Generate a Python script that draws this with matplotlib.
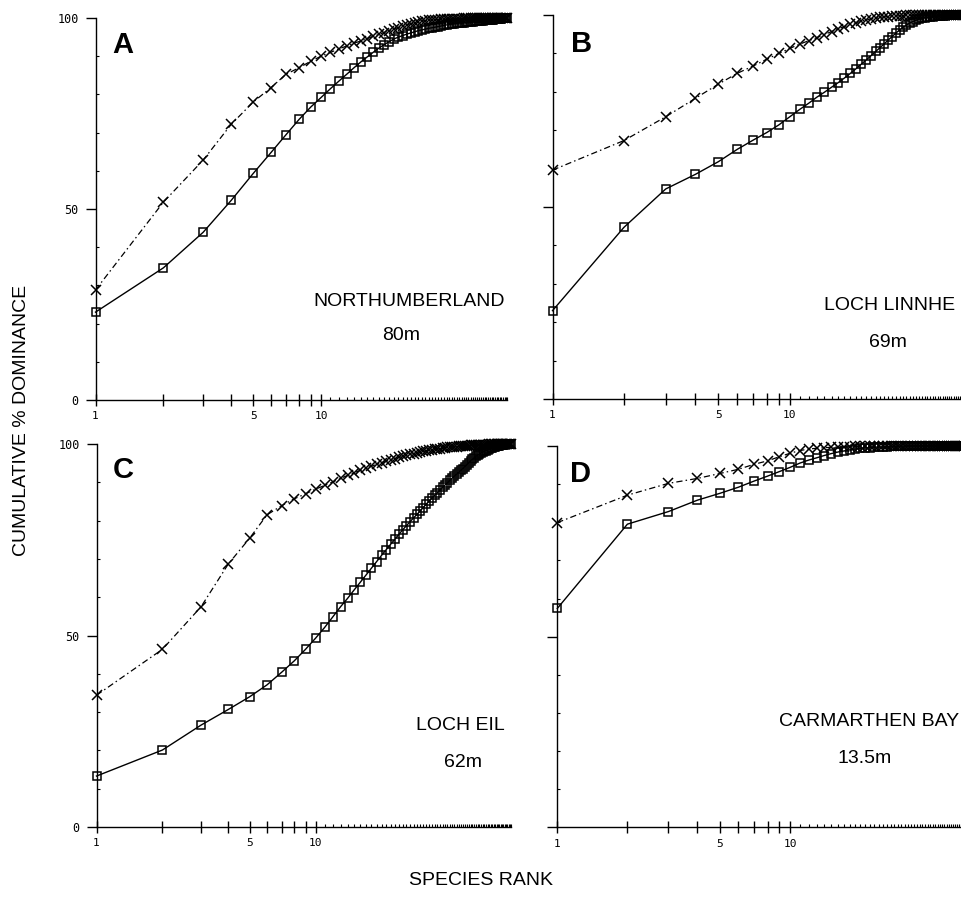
import matplotlib
matplotlib.use('Agg')
import matplotlib.pyplot as plt
from matplotlib.ticker import FixedLocator, FixedFormatter, NullFormatter

#%% data (cumulative % dominance by species rank)
# x = abundance-type curve (dash-dot), sq = second curve (solid, squares)
a_x = [28.8, 51.8, 62.8, 72.2, 78.0, 81.8, 85.3, 87.0, 88.7, 90.0,
       91.0, 91.9, 92.7, 93.4, 94.0, 94.6, 95.2, 95.7, 96.2, 96.7,
       97.1, 97.5, 97.9, 98.2, 98.5, 98.8, 99.0, 99.2, 99.3, 99.4,
       99.5, 99.55, 99.6, 99.65, 99.7, 99.72, 99.75, 99.78, 99.8, 99.82,
       99.84, 99.86, 99.87, 99.88, 99.89, 99.9, 99.91, 99.92, 99.93, 99.94,
       99.95, 99.95, 99.96, 99.96, 99.97, 99.97, 99.98, 99.98, 99.98, 99.99,
       99.99, 99.99, 99.99, 100, 100, 100, 100]
a_sq = [23.0, 34.6, 43.9, 52.3, 59.3, 64.8, 69.5, 73.5, 76.7, 79.2,
        81.5, 83.5, 85.3, 87.0, 88.5, 89.8, 91.0, 92.1, 93.0, 93.8,
        94.5, 95.0, 95.4, 95.8, 96.1, 96.4, 96.7, 96.9, 97.1, 97.3,
        97.45, 97.6, 97.75, 97.9, 98.05, 98.2, 98.3, 98.4, 98.5, 98.6,
        98.7, 98.75, 98.8, 98.85, 98.9, 98.95, 99.0, 99.1, 99.15, 99.2,
        99.25, 99.3, 99.35, 99.4, 99.45, 99.5, 99.55, 99.6, 99.65, 99.7,
        99.75, 99.8, 99.85, 99.9, 99.95, 99.98, 100]

b_x = [59.6, 67.3, 73.5, 78.3, 82.0, 84.8, 86.7, 88.5, 90.0, 91.3,
       92.4, 93.3, 94.1, 94.9, 95.7, 96.4, 97.0, 97.6, 98.0, 98.4,
       98.7, 99.0, 99.2, 99.4, 99.5, 99.6, 99.7, 99.75, 99.8, 99.85,
       99.87, 99.89, 99.9, 99.91, 99.92, 99.93, 99.94, 99.95, 99.95, 99.96,
       99.96, 99.97, 99.97, 99.98, 99.98, 99.98, 99.99, 99.99, 99.99, 99.99,
       100, 100, 100, 100, 100]
b_sq = [23.0, 44.7, 54.7, 58.5, 61.8, 65.0, 67.4, 69.4, 71.4, 73.5,
        75.4, 77.0, 78.6, 79.9, 81.2, 82.4, 83.6, 84.8, 86.0, 87.2,
        88.3, 89.4, 90.5, 91.5, 92.5, 93.5, 94.4, 95.3, 96.1, 96.8,
        97.4, 97.9, 98.3, 98.6, 98.9, 99.1, 99.3, 99.4, 99.5, 99.6,
        99.65, 99.7, 99.75, 99.8, 99.84, 99.87, 99.9, 99.92, 99.94, 99.96,
        99.97, 99.98, 99.99, 100, 100]

c_x = [34.4, 46.4, 57.5, 68.7, 75.4, 81.5, 83.9, 85.7, 87.0, 88.2,
       89.2, 90.1, 91.0, 91.8, 92.5, 93.1, 93.7, 94.2, 94.7, 95.1,
       95.5, 95.9, 96.2, 96.5, 96.8, 97.0, 97.3, 97.5, 97.7, 97.9,
       98.05, 98.2, 98.35, 98.5, 98.6, 98.7, 98.8, 98.9, 99.0, 99.1,
       99.15, 99.2, 99.25, 99.3, 99.35, 99.4, 99.45, 99.5, 99.54, 99.58,
       99.62, 99.65, 99.68, 99.71, 99.74, 99.76, 99.78, 99.8, 99.82, 99.84,
       99.86, 99.87, 99.88, 99.89, 99.9, 99.91, 99.92, 99.93, 99.94, 99.95,
       99.96, 99.97, 99.97, 99.98, 99.98, 99.99, 99.99, 100]
c_sq = [13.3, 20.1, 26.6, 30.7, 34.0, 37.1, 40.4, 43.4, 46.4, 49.3,
        52.1, 54.9, 57.5, 59.7, 61.9, 63.9, 65.8, 67.6, 69.3, 70.9,
        72.4, 73.8, 75.1, 76.4, 77.6, 78.7, 79.7, 80.7, 81.6, 82.5,
        83.4, 84.3, 85.1, 85.9, 86.6, 87.3, 88.0, 88.7, 89.3, 89.9,
        90.5, 91.1, 91.6, 92.1, 92.6, 93.1, 93.6, 94.1, 94.6, 95.1,
        95.6, 96.0, 96.4, 96.8, 97.1, 97.4, 97.7, 97.9, 98.1, 98.3,
        98.5, 98.7, 98.9, 99.0, 99.2, 99.3, 99.4, 99.5, 99.6, 99.7,
        99.75, 99.8, 99.85, 99.9, 99.93, 99.96, 99.98, 100]

d_x = [79.9, 87.1, 90.2, 91.5, 92.8, 93.9, 95.2, 96.1, 97.2, 98.1,
       98.8, 99.2, 99.4, 99.55, 99.65, 99.75, 99.8, 99.85, 99.9, 99.92,
       99.94, 99.95, 99.96, 99.97, 99.97, 99.98, 99.98, 99.98, 99.99, 99.99,
       99.99, 99.99, 99.99, 99.99, 99.99, 100, 100, 100, 100, 100,
       100, 100, 100, 100, 100, 100, 100, 100, 100, 100,
       100, 100, 100, 100, 100, 100, 100, 100, 100, 100]
d_sq = [57.4, 79.5, 82.8, 85.8, 87.6, 89.2, 90.8, 92.1, 93.3, 94.4,
        95.5, 96.3, 96.9, 97.5, 98.0, 98.4, 98.7, 99.0, 99.2, 99.4,
        99.5, 99.6, 99.7, 99.75, 99.8, 99.85, 99.88, 99.9, 99.92, 99.94,
        99.95, 99.96, 99.97, 99.97, 99.98, 99.98, 99.98, 99.99, 99.99, 99.99,
        99.99, 99.99, 99.99, 99.99, 99.99, 100, 100, 100, 100, 100,
        100, 100, 100, 100, 100, 100, 100, 100, 100, 100]

letters = ['A', 'B', 'C', 'D']
sites = ['NORTHUMBERLAND', 'LOCH LINNHE', 'LOCH EIL', 'CARMARTHEN BAY']
depths = ['80m', '69m', '62m', '13.5m']

#%% layout (pixels of the 961x897 page)
W, H = 961, 897
plt.rcParams['font.family'] = ['Liberation Sans', 'DejaVu Sans']

# left, right, y of 0, y of 100
boxes = [(95.5, 507.5, 400, 18),
         (552.5, 965.5, 399, 15),
         (96.5, 511.0, 827, 444),
         (557.3, 971.3, 827.3, 446)]
letter_pos = [(0.040, 0.908), (0.046, 0.904), (0.040, 0.911), (0.031, 0.906)]
site_pos = [(0.761, 0.259), (0.816, 0.243), (0.878, 0.266), (0.753, 0.277)]
depth_pos = [(0.742, 0.168), (0.811, 0.147), (0.883, 0.168), (0.743, 0.180)]

fig = plt.figure(figsize=(W / 100, H / 100), dpi=100)

series = [(a_x, a_sq), (b_x, b_sq), (c_x, c_sq), (d_x, d_sq)]
mono = 'DejaVu Sans Mono'

for i, (xs, sqs) in enumerate(series):
    l, r, y0, y100 = boxes[i]
    ax = fig.add_axes([l / W, (H - y0) / H, (r - l) / W, (y0 - y100) / H])
    rank = list(range(1, len(xs) + 1))

    ax.plot(rank, xs, color='black', lw=0.9, ls=(0, (5, 2.5, 1.2, 2.5)),
            marker='x', ms=7.2, mew=1.1, clip_on=False, zorder=3)
    ax.plot(rank, sqs, color='black', lw=1.0, ls='-',
            marker='s', ms=6.3, mfc='none', mec='black', mew=1.1,
            clip_on=False, zorder=4)

    ax.set_xscale('log')
    ax.set_xlim(1, len(xs))
    ax.set_ylim(0, 100)

    for s in ['top', 'right']:
        ax.spines[s].set_visible(False)
    for s in ['left', 'bottom']:
        ax.spines[s].set_linewidth(1.0)

    # x ticks: every rank, labels at 1, 5, 10
    major = list(range(1, 11))
    ax.xaxis.set_major_locator(FixedLocator(major))
    ax.xaxis.set_major_formatter(FixedFormatter(['1', '', '', '', '5', '', '', '', '', '10']))
    ax.xaxis.set_minor_locator(FixedLocator(list(range(11, len(xs) + 1))))
    ax.xaxis.set_minor_formatter(NullFormatter())
    ax.tick_params(axis='x', which='major', direction='inout', length=8.5,
                   width=1.0, pad=4, labelsize=8)
    ax.tick_params(axis='x', which='minor', direction='in', length=2.5, width=0.8)

    # y ticks: 0/50/100 outward, minor every 10 inward
    ax.yaxis.set_major_locator(FixedLocator([0, 50, 100]))
    ax.yaxis.set_minor_locator(FixedLocator([10, 20, 30, 40, 60, 70, 80, 90]))
    ax.tick_params(axis='y', which='major', direction='out', length=7,
                   width=1.0, pad=5, labelsize=8.5)
    ax.tick_params(axis='y', which='minor', direction='in', length=2.5, width=0.8)
    if i in (1, 3):
        ax.set_yticklabels([])
    for lab in ax.get_xticklabels() + ax.get_yticklabels():
        lab.set_family(mono)

    ax.text(letter_pos[i][0], letter_pos[i][1], letters[i], transform=ax.transAxes,
            fontsize=21, fontweight='bold', ha='left', va='baseline')
    ax.text(site_pos[i][0], site_pos[i][1], sites[i], transform=ax.transAxes,
            fontsize=14, ha='center', va='center')
    ax.text(depth_pos[i][0], depth_pos[i][1], depths[i], transform=ax.transAxes,
            fontsize=14, ha='center', va='center')

fig.text(22 / W, 1 - 420 / H, 'CUMULATIVE % DOMINANCE', rotation=90,
         fontsize=14, ha='center', va='center')
fig.text(481 / W, 1 - 880 / H, 'SPECIES RANK', fontsize=14,
         ha='center', va='center')

fig.savefig('out.png', dpi=100)
